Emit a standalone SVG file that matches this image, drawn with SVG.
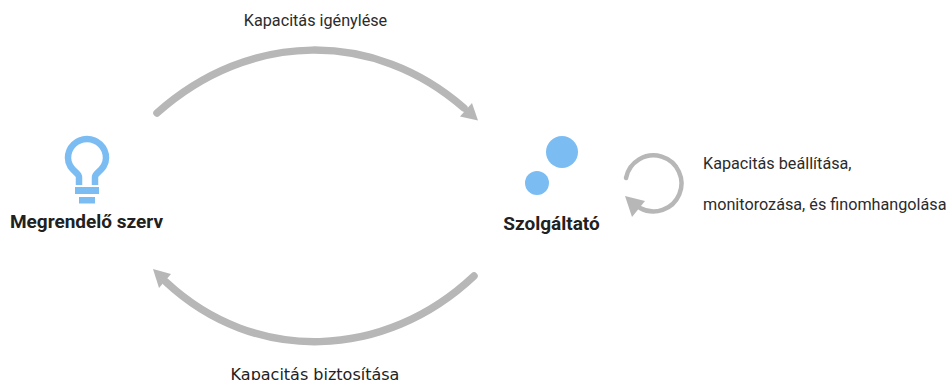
<svg xmlns="http://www.w3.org/2000/svg" width="949" height="380" viewBox="0 0 949 380">
<style>
text{font-family:Roboto,"Liberation Sans",sans-serif;fill:#2b2b2b}
.l{font-size:16.2px}
.d{font-family:"DejaVu Sans",sans-serif;font-size:16px;fill:#222}
.b{font-size:19px;font-weight:700;fill:#212121}
.c{fill:none;stroke:#b7b7b7;stroke-width:7.5;stroke-linecap:round}
.h{fill:#b7b7b7}
.s{fill:#7bbdf3}
</style>
<rect width="949" height="380" fill="#fff"/>
<g id="connectors">
<path class="c" d="M157 113C250 30 375 30 464 108"/>
<polygon class="h" points="478,120.500 460,116.500 472,103"/>
<path class="c" d="M474 276C385 360 255 365 166 282"/>
<polygon class="h" points="153,269 171,274 159,288"/>
<path class="c" style="stroke-width:4.5" d="M626 178A28 28 0 1 1 640 208"/>
<polygon class="h" points="625,196 645,201 632,217"/>
</g>
<g id="label-request"><text class="l" x="315.500" y="26" text-anchor="middle">Kapacitás igénylése</text></g>
<g id="label-provide"><text class="d" x="315" y="380" text-anchor="middle">Kapacitás biztosítása</text></g>
<g id="label-self"><text class="l" x="703" y="169">Kapacitás beállítása,</text><text class="l" x="703" y="210">monitorozása, és finomhangolása</text></g>
<g id="node-customer">
<path d="M79 185V177C79 172 68 170 68 158A19 19 0 0 1 106 158C106 170 95 172 95 177V185" fill="none" stroke="#7bbdf3" stroke-width="6.500"/>
<rect class="s" x="75" y="187" width="24" height="7"/>
<rect class="s" x="79" y="197" width="16" height="6.500"/>
<text class="b" x="86.500" y="228" text-anchor="middle">Megrendelő szerv</text>
</g>
<g id="node-provider">
<circle class="s" cx="562" cy="152" r="16"/>
<circle class="s" cx="537" cy="183" r="12"/>
<text class="b" x="551.500" y="230" text-anchor="middle">Szolgáltató</text>
</g>
</svg>
